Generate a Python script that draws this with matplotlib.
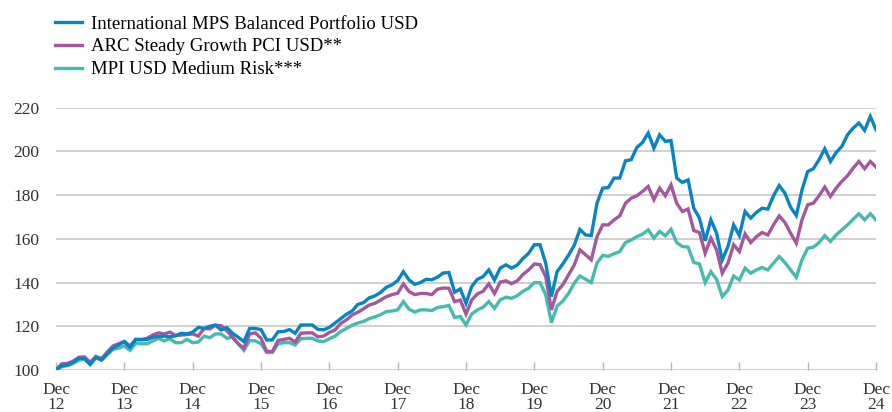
import numpy as np
import matplotlib
matplotlib.use("Agg")
import matplotlib.pyplot as plt

# monthly index values, Dec 2012 = 100, Dec 12 .. Dec 24
mps_balanced = [
    100, 102, 102.3, 103.5, 105.3, 105.3, 102.6, 105.8, 104.6, 107.5, 110, 111.5,
    113, 110.4, 114, 113.8, 114, 115, 115.3, 115.5, 115.2, 115.6, 116.8, 116.5,
    117.3, 119.5, 119, 120, 120.5, 118.3, 119.4, 116.8, 115, 113, 119, 119,
    118.5, 113.7, 113.8, 117.5, 117.6, 118.5, 116.8, 120.6, 120.6, 120.6, 118.6, 118.4,
    119.5, 121.5, 123.5, 125.5, 127, 130, 130.8, 133, 133.9, 135.5, 137.8, 139,
    140.9, 145, 141.2, 139.2, 140, 141.5, 141.3, 142.5, 144.4, 144.6, 135.6, 137.1,
    130.5, 138.2, 141.5, 142.7, 145.8, 141.2, 146.6, 148.1, 146.6, 148, 151, 153.4,
    157.3, 157.3, 148.9, 133.6, 145, 148.5, 152.5, 157, 164.3, 161.8, 161.5, 176.3,
    183.2, 183.5, 187.8, 187.8, 195.7, 196.2, 201.8, 204.1, 208.4, 201.5, 207.6, 204.6,
    205, 187.8, 185.8, 187, 174, 169.5, 159.1, 168.7, 162.6, 150.4, 156.5, 166.4,
    161.5, 172.5, 169.5, 172.1, 174, 173.6, 179.7, 184.4, 180.9, 174.5, 170.7, 182.4,
    190.8, 192.1, 196.2, 201.2, 195.4, 199.5, 202.3, 207.6, 210.7, 213, 209.6, 216,
    209.9,
]
arc_steady = [
    100, 102.8, 103, 104, 105.8, 106, 103.5, 106.2, 105.2, 108.2, 111, 112,
    113, 111, 114, 114, 114.5, 116, 117, 116.5, 117.3, 115.8, 116, 116.2,
    116.5, 115.5, 119, 118.8, 120.5, 120.3, 118, 115, 112, 110, 116.5, 117,
    114.5, 108.5, 108.5, 113.5, 114, 114.5, 112.8, 116.8, 117, 117, 115.2, 115.5,
    117.2, 118.3, 121.3, 122.9, 125.2, 126.4, 128, 129.7, 130.5, 132, 133.5, 134.5,
    135.1, 139.4, 135.9, 134.5, 135, 135, 134.5, 137, 137.5, 137.4, 131.3, 132,
    125.6, 132, 134.8, 136, 139.4, 135, 140.2, 140.8, 139.5, 140.8, 143.7, 145.8,
    148.5, 148.2, 142.7, 127.5, 136, 139, 143.5, 148, 155, 152.7, 150.4, 161,
    166.4, 166.4, 168.7, 170.5, 176.3, 178.6, 179.7, 181.7, 184, 177.9, 183.2, 179.7,
    184.7, 176.3, 172.5, 173.7, 163.8, 162.9, 153.4, 160.3, 155, 144.3, 148.9, 157.3,
    154.2, 162.3, 158.3, 161, 162.9, 161.8, 166.4, 170.5, 167.5, 162.6, 158, 168.7,
    175.6, 176.3, 179.7, 183.7, 179.4, 183.2, 186.3, 188.9, 192.4, 195.4, 192.1, 195.4,
    192.8,
]
mpi_medium = [
    100, 101.5, 102, 103, 104.5, 105, 102.5, 105.5, 104.5, 107, 109.5, 110,
    111, 109, 112.3, 112, 112, 113.3, 114.5, 113.3, 114.3, 112.5, 112.5, 114,
    112.5, 112.8, 115.5, 114.8, 116.5, 116.5, 114.5, 115, 112, 109, 113.5, 113.3,
    112, 108, 108, 112, 112.5, 112.5, 111.5, 114.3, 114.5, 114.5, 113.3, 113,
    114.3, 115.5, 117.6, 119, 120.5, 121.5, 122.2, 123.5, 124.3, 125.3, 126.7, 127,
    127.5, 131.3, 127.8, 126.5, 127.5, 127.5, 127.2, 128.6, 129, 129.5, 124, 124.5,
    120.6, 125.6, 127.5, 128.7, 131.3, 128.2, 132.1, 133.3, 132.8, 134, 136, 137.4,
    140, 140, 134.4, 121.7, 129.3, 131.5, 135, 139.7, 143, 141.5, 140, 148.9,
    152.4, 152, 153.2, 154.2, 158.3, 159.5, 161, 162.2, 164.1, 160.3, 163.4, 161.4,
    164.4, 158.3, 156.5, 156.2, 149.2, 148.5, 140, 145, 141.5, 133.6, 136.6, 143,
    141.2, 146.6, 144.3, 145.8, 146.9, 145.8, 148.9, 151.9, 149.2, 145.8, 142.4, 150.4,
    155.7, 156.2, 158.3, 161.5, 158.8, 161.8, 164.1, 166.4, 169, 171.5, 168.7, 171.5,
    168.7,
]
labels = ["International MPS Balanced Portfolio USD",
          "ARC Steady Growth PCI USD**",
          "MPI USD Medium Risk***"]
years = ["12", "13", "14", "15", "16", "17", "18", "19", "20", "21", "22", "23", "24"]
yticks = [100, 120, 140, 160, 180, 200, 220]

plt.rcParams['font.family'] = ['Liberation Serif', 'DejaVu Serif']

fig = plt.figure(figsize=(8.92, 4.12), dpi=100)
ax = fig.add_axes([56 / 892, 1 - 370 / 412, 820 / 892, (370 - 107.7) / 412])

months = np.arange(len(mps_balanced))
l3, = ax.plot(months, mpi_medium, color="#45bbb0", lw=2.4, solid_joinstyle="miter")
l2, = ax.plot(months, arc_steady, color="#a5579d", lw=2.4, solid_joinstyle="miter")
l1, = ax.plot(months, mps_balanced, color="#0785c3", lw=2.4, solid_joinstyle="miter")

ax.set_xlim(0, months[-1])
ax.set_ylim(100, 220)
ax.set_yticks(yticks)
ax.set_xticks(np.arange(0, 12 * len(years), 12))
ax.set_xticklabels(["Dec\n" + y for y in years], linespacing=0.85)
ax.yaxis.grid(True, color="#c4c4c4", lw=1.1)
ax.set_axisbelow(True)
for s in ax.spines.values():
    s.set_visible(False)
ax.tick_params(axis="y", length=0, pad=12, labelsize=12.5, labelcolor="#333333")
ax.tick_params(axis="x", direction="in", length=6, width=1, color="#b5b5b5",
               pad=9, labelsize=12.5, labelcolor="#333333")

fig.legend([l1, l2, l3], labels, loc="upper left", bbox_to_anchor=(55 / 892, 1 - 15.5 / 412),
           frameon=False, fontsize=13.5, handlelength=1.45, handletextpad=0.45,
           labelspacing=0.3, borderaxespad=0, borderpad=0)

fig.savefig("out.png", dpi=100)
